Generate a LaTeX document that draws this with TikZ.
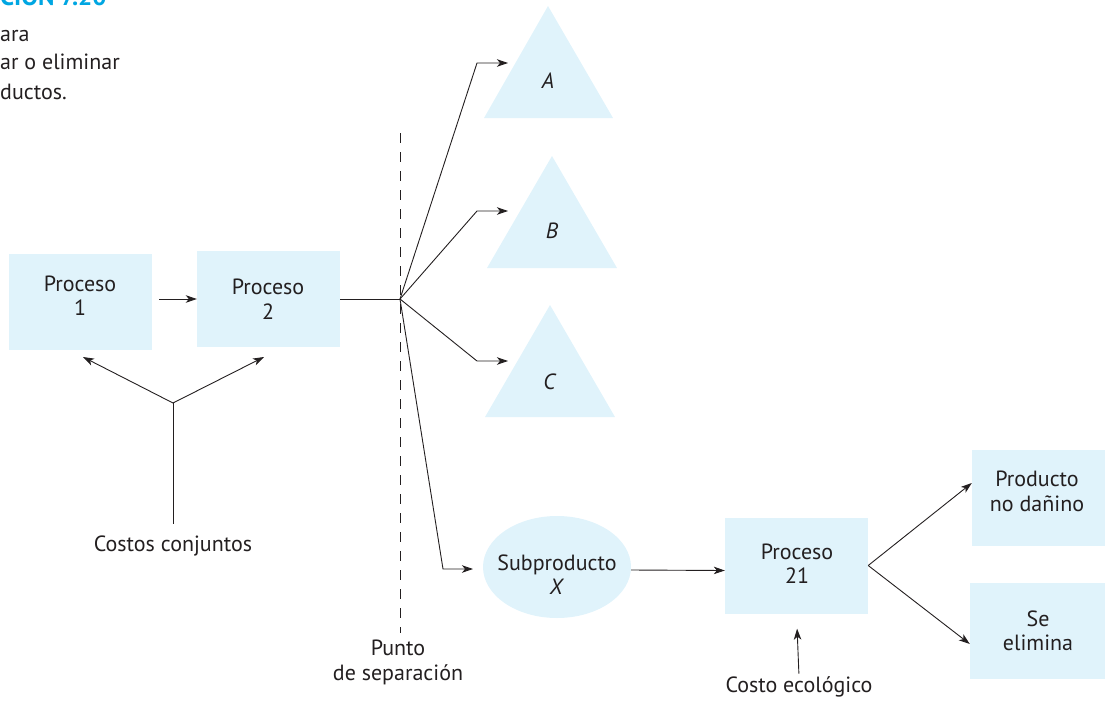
\documentclass[tikz,border=0pt]{standalone}
\usepackage{fontspec}
\setmainfont{PT Sans}
\usetikzlibrary{arrows.meta,shapes.geometric}
\definecolor{boxfill}{RGB}{224,243,251}
\definecolor{ink}{RGB}{35,31,32}
\definecolor{titlecyan}{RGB}{0,166,226}
\begin{document}
\begin{tikzpicture}[x=1pt,y=-1pt,
  font=\fontsize{22}{24.5}\selectfont,
  every node/.style={text=ink},
  box/.style={fill=boxfill, draw=none, minimum width=143pt, minimum height=96pt, inner sep=0pt},
  lbl/.style={align=center, inner sep=0pt},
  conn/.style={draw=ink, line width=0.9pt},
  arr/.style={conn, -{Stealth[length=11pt,width=7.5pt,inset=3pt]}},
  tri/.style={fill=boxfill}]
\useasboundingbox (0,0) rectangle (1105,701);
% caption fragments
\node[anchor=base west, inner sep=0pt, text=titlecyan, font=\fontsize{25}{26}\selectfont\bfseries] (ttl) at (0,6) {CIÓN 7.20};
\node[anchor=base west, inner sep=0pt] (c1) at (0,42) {ara};
\node[anchor=base west, inner sep=0pt] (c2) at (0,70) {ar o eliminar};
\node[anchor=base west, inner sep=0pt] (c3) at (0,99) {ductos.};
% shapes
\node[box] (p1) at (80.5,302) {};
\node[box] (p2) at (268.5,299) {};
\node[box] (p21) at (796.5,565.5) {};
\node[box] (pa) at (1043.5,498) {};
\node[box] (pe) at (1041.5,630.5) {};
\node[ellipse, fill=boxfill, minimum width=148pt, minimum height=102pt, inner sep=0pt] (sx) at (557,567) {};
\fill[tri] (548,6) -- (613,118) -- (484,118) -- cycle;
\fill[tri] (552,156) -- (617,268) -- (487,268) -- cycle;
\fill[tri] (550,305) -- (615,417) -- (485,417) -- cycle;
% texts
\node[lbl] (p1t) at (80,295.5) {Proceso\\1};
\node[lbl] (p2t) at (268,299) {Proceso\\2};
\node[lbl] (p21t) at (797,563.5) {Proceso\\21};
\node[lbl] (pat) at (1037,491.5) {Producto\\no dañino};
\node[lbl] (pet) at (1038,631) {Se\\elimina};
\node[lbl] (sxt) at (557,574.5) {Subproducto\\\textit{X}};
\node[lbl] (at) at (548,81) {\textit{A}};
\node[lbl] (bt) at (552,231) {\textit{B}};
\node[lbl] (ct) at (550,382) {\textit{C}};
\node[lbl] (cc) at (173,546) {Costos conjuntos};
\node[lbl] (ps) at (398,662.5) {Punto\\de separación};
\node[lbl] (ce) at (799,687) {Costo ecológico};
% coordinates
\coordinate (s) at (400,299);
\coordinate (j) at (173,403);
\coordinate (t1) at (83,357);
\coordinate (t2) at (264,357);
\coordinate (bA) at (477,63);
\coordinate (tA) at (508,63);
\coordinate (bB) at (477,211);
\coordinate (tB) at (508,211);
\coordinate (bC) at (477,361);
\coordinate (tC) at (508,361);
\coordinate (bX) at (443,569);
\coordinate (tX) at (473,569);
\coordinate (dtop) at (400,133);
\coordinate (dbot) at (400,633);
% dashed separation line
\draw[draw=ink, line width=0.8pt, dash pattern=on 10pt off 9pt] (dtop) -- (dbot);
% connectors
\draw[arr, shorten <=7pt] ([yshift=3pt]p1.east) -- (p2.west);
\draw[conn] (p2.east) -- (s);
\draw[arr] (s) -- (bA) -- (tA);
\draw[arr] (s) -- (bB) -- (tB);
\draw[arr] (s) -- (bC) -- (tC);
\draw[arr] (s) -- (bX) -- (tX);
\draw[arr] ([yshift=-3pt]sx.east) -- ([yshift=-5pt]p21.west);
\draw[arr] (p21.east) -- ([yshift=15pt]pa.west);
\draw[arr] (p21.east) -- ([yshift=-13.5pt]pe.west);
\draw[arr, shorten <=3pt, shorten >=15pt] (ce.north) -- (p21.south);
\draw[conn, shorten <=12pt] (cc.north) -- (j);
\draw[arr] (j) -- (t1);
\draw[arr] (j) -- (t2);
\end{tikzpicture}
\end{document}
